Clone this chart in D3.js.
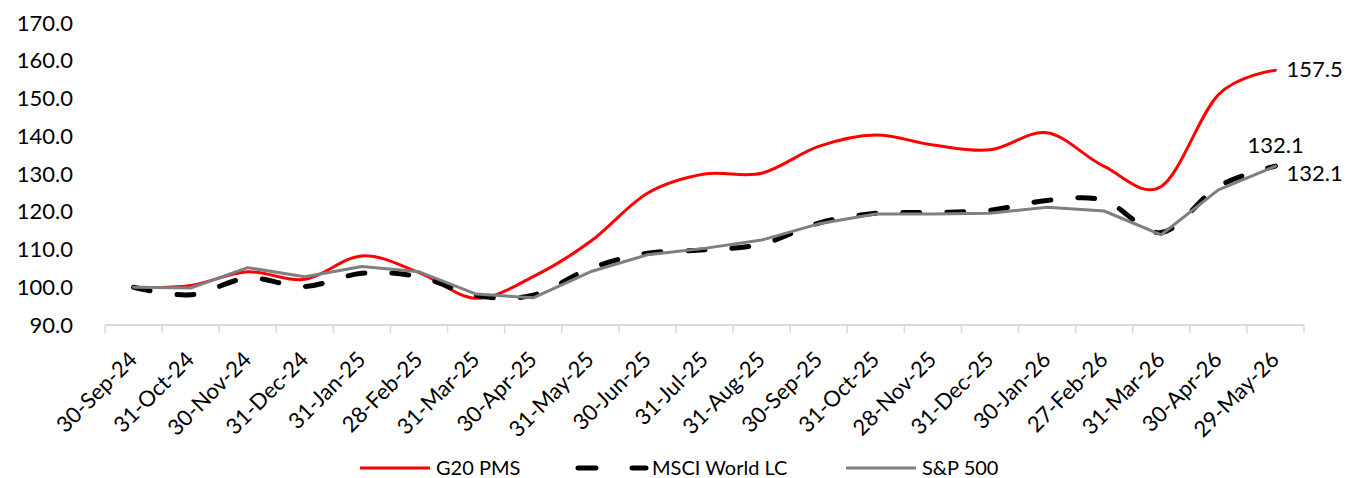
<!DOCTYPE html>
<html lang="en">
<head>
<meta charset="UTF-8">
<style>
    body { margin: 0; background: #fff; }
    svg { display: block; font-family: Lato, "Open Sans", sans-serif; }
</style>
</head>
<body>
<svg width="1348" height="478"></svg>
<script src="https://d3js.org/d3.v7.min.js"></script>
<script>

// data
var dates = ["30-Sep-24", "31-Oct-24", "30-Nov-24", "31-Dec-24", "31-Jan-25", "28-Feb-25",
    "31-Mar-25", "30-Apr-25", "31-May-25", "30-Jun-25", "31-Jul-25", "31-Aug-25",
    "30-Sep-25", "31-Oct-25", "28-Nov-25", "31-Dec-25", "30-Jan-26", "27-Feb-26",
    "31-Mar-26", "30-Apr-26", "29-May-26"];

var g20 = [100.0, 100.5, 104.1, 102.1, 108.3, 103.9, 97.1, 102.8, 112.1, 124.9, 130.0,
    130.2, 137.3, 140.3, 137.7, 136.4, 140.9, 132.0, 126.7, 151.0, 157.5];
var msci = [100.0, 98.0, 102.4, 100.2, 103.7, 102.8, 97.8, 97.9, 105.0, 109.0, 109.9,
    111.4, 117.0, 119.6, 119.8, 120.4, 123.0, 123.0, 114.5, 126.7, 132.1];
var spx = [100.0, 99.8, 105.2, 102.8, 105.5, 104.1, 98.2, 97.2, 104.1, 108.6, 110.3,
    112.5, 116.8, 119.4, 119.4, 119.6, 121.2, 120.2, 113.9, 125.8, 132.1];

var yTicks = [90, 100, 110, 120, 130, 140, 150, 160, 170];

var seriesList = [
    {name: "G20 PMS", values: g20, color: "#ff0000", width: 3, dash: null, curve: d3.curveCatmullRom.alpha(0)},
    {name: "MSCI World LC", values: msci, color: "#000000", width: 5, dash: "17,27", curve: d3.curveCatmullRom.alpha(0)},
    {name: "S&P 500", values: spx, color: "#7f7f7f", width: 3, dash: null, curve: d3.curveLinear}
];

var margin = {top: 23, right: 44, bottom: 153, left: 105},
    width = 1348 - margin.left - margin.right,
    height = 478 - margin.top - margin.bottom;

var svg = d3.select("svg");
var g = svg.append("g")
    .attr("transform", "translate(" + margin.left + "," + margin.top + ")");

var x = d3.scaleBand().domain(dates).range([0, width]);
var y = d3.scaleLinear().domain([90, 170]).range([height, 0]);

// y axis labels only, no line
var yAxis = g.append("g")
    .call(d3.axisLeft(y).tickValues(yTicks).tickFormat(d3.format(".1f")).tickSize(0).tickPadding(32));
yAxis.select(".domain").remove();
yAxis.selectAll("text")
    .attr("font-size", "22px")
    .attr("font-family", "Lato, sans-serif")
    .attr("fill", "#000");

// x axis: light line with ticks at the category edges
var xg = g.append("g").attr("transform", "translate(0," + height + ")");
xg.append("line")
    .attr("x1", 0).attr("x2", width)
    .attr("stroke", "#d9d9d9").attr("stroke-width", 2);
xg.selectAll(".edge")
    .data(d3.range(dates.length + 1))
    .enter().append("line")
    .attr("x1", function(i) { return i * x.step(); })
    .attr("x2", function(i) { return i * x.step(); })
    .attr("y1", 0).attr("y2", 8)
    .attr("stroke", "#d9d9d9").attr("stroke-width", 1.5);

xg.selectAll(".lbl")
    .data(dates)
    .enter().append("text")
    .attr("transform", function(d) {
        return "translate(" + (x(d) + x.bandwidth() / 2 + 5) + ",36) rotate(-45)";
    })
    .attr("text-anchor", "end")
    .attr("font-size", "22px")
    .attr("fill", "#000")
    .text(function(d) { return d; });

// lines
seriesList.forEach(function(s) {
    var line = d3.line()
        .x(function(d, i) { return x(dates[i]) + x.bandwidth() / 2; })
        .y(function(d) { return y(d); })
        .curve(s.curve);
    g.append("path")
        .datum(s.values)
        .attr("fill", "none")
        .attr("stroke", s.color)
        .attr("stroke-width", s.width)
        .attr("stroke-linecap", "round")
        .attr("stroke-linejoin", "round")
        .attr("stroke-dasharray", s.dash)
        .attr("d", line);
});

// end labels
var lastX = x(dates[dates.length - 1]) + x.bandwidth() / 2;
var last = dates.length - 1;
g.append("text").attr("x", lastX + 11).attr("y", y(g20[last]) + 7)
    .attr("font-size", "22px").text(g20[last].toFixed(1));
g.append("text").attr("x", lastX - 28).attr("y", y(msci[last]) - 13)
    .attr("font-size", "22px").text(msci[last].toFixed(1));
g.append("text").attr("x", lastX + 11).attr("y", y(spx[last]) + 15)
    .attr("font-size", "22px").text(spx[last].toFixed(1));

// legend
var legendX = [360, 576, 846];
var legend = svg.append("g").attr("transform", "translate(0,468)");
seriesList.forEach(function(s, i) {
    legend.append("line")
        .attr("x1", legendX[i] + (s.dash ? 2 : 0)).attr("x2", legendX[i] + 70)
        .attr("stroke", s.color)
        .attr("stroke-width", s.width)
        .attr("stroke-linecap", s.dash ? "round" : "butt")
        .attr("stroke-dasharray", s.dash ? "18,36" : null);
    legend.append("text")
        .attr("x", legendX[i] + 76)
        .attr("y", 7)
        .attr("font-size", "20px")
        .text(s.name);
});

</script>
</body>
</html>
